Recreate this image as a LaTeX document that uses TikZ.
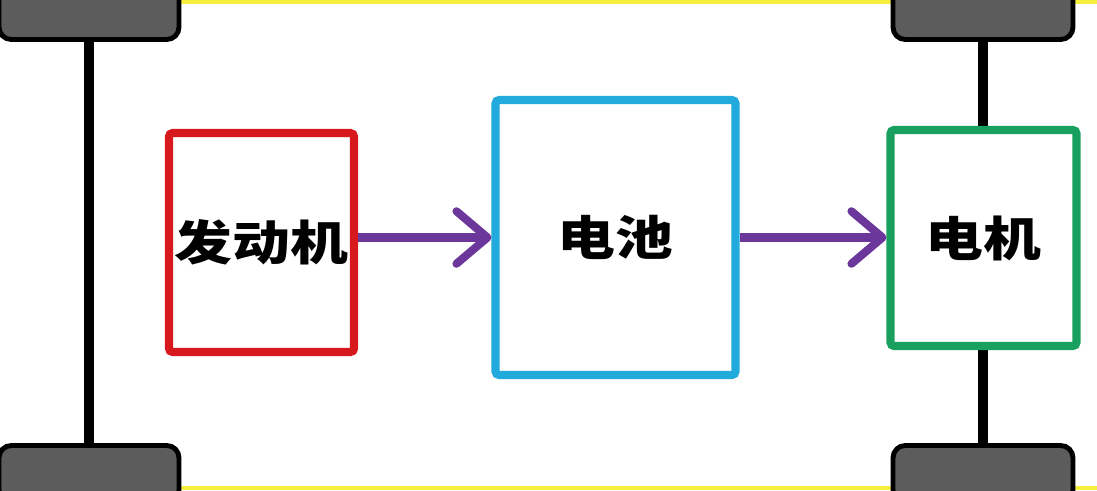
\documentclass[tikz,border=0pt]{standalone}
\usepackage{fontspec}
\newfontfamily\cjk{Noto Sans CJK SC}
\usetikzlibrary{arrows.meta}

\definecolor{framecolor}{RGB}{246,240,60}
\definecolor{wheelcolor}{RGB}{92,92,92}
\definecolor{enginecolor}{RGB}{215,25,30}
\definecolor{batterycolor}{RGB}{35,170,220}
\definecolor{motorcolor}{RGB}{25,160,95}
\definecolor{flowcolor}{RGB}{108,55,155}

\tikzset{
  wheel/.style={draw=black,fill=wheelcolor,line width=2.8pt,rounded corners=7pt,
    minimum width=3.6cm,minimum height=1.14cm,inner sep=0pt},
  axle/.style={draw=black,line width=5.5pt},
  unit/.style={fill=white,line width=4.6pt,rounded corners=2pt,inner sep=0pt,
    font=\cjk\bfseries\fontsize{27}{30}\selectfont},
  flow/.style={draw=flowcolor,line width=4.6pt,
    -{Straight Barb[length=0.62cm,width=1.05cm,round]}}
}

\begin{document}
\begin{tikzpicture}[x=0.02cm,y=-0.02cm]
\useasboundingbox (0,0) rectangle (1097,490);
\fill[white] (0,0) rectangle (1097,490);
\begin{scope}
\clip (0,0) rectangle (1097,490);
\fill[framecolor] (0,0) rectangle (1097,4);
\fill[framecolor] (0,486) rectangle (1097,490);
% wheels and axles
\node[wheel] (wheelTL) at (89,11) {};
\node[wheel] (wheelBL) at (89,474) {};
\node[wheel] (wheelTR) at (983,11) {};
\node[wheel] (wheelBR) at (983,474) {};
\draw[axle] (wheelTL.south) -- (wheelBL.north);
\draw[axle] (wheelTR.south) -- (wheelBR.north);
\end{scope}
% units
\node[unit,draw=enginecolor,minimum width=3.7cm,minimum height=4.38cm] (engine) at (261.5,242.5)
  {\scalebox{1.22}[1]{发动机}};
\node[unit,draw=batterycolor,minimum width=4.8cm,minimum height=5.5cm] (battery) at (615.5,237.5)
  {\scalebox{1.22}[1]{电池}};
\node[unit,draw=motorcolor,minimum width=3.72cm,minimum height=4.32cm] (motor) at (983.5,238)
  {\scalebox{1.22}[1]{电机}};
% energy flow
\draw[flow] (engine.east |- battery.west) -- (battery.west);
\draw[flow] (battery.east) -- (motor.west |- battery.east);
\end{tikzpicture}
\end{document}
